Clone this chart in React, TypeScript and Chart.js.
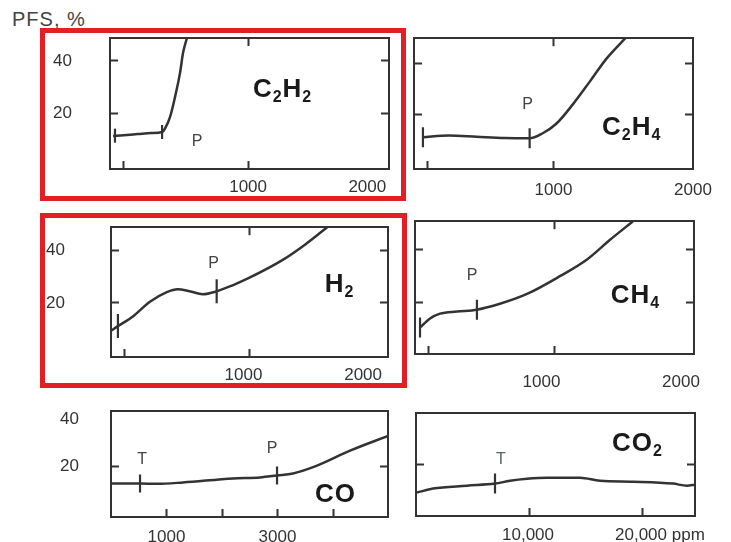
import React, { useEffect, useRef } from "react";
import { Chart, registerables } from "chart.js";

Chart.register(...registerables);

const FONT = '"Liberation Sans", Arial, Helvetica, sans-serif';
const INK = "#333333";
Chart.defaults.font.family = FONT;

// ---------- data (x in ppm, y in PFS %) ----------
// C2H2
const c2h2X = [22, 100, 200, 300, 377, 400, 435, 471, 507, 529, 558];
const c2h2Y = [11.2, 11.5, 11.9, 12.3, 12.7, 14.2, 18.5, 26.2, 35.4, 43.1, 49];
const c2h2MarkX = [36, 377];
const c2h2MarkY = [11.3, 12.7];
const c2h2NoteText = ["P"];
const c2h2NoteX = [630];
const c2h2NoteY = [9.6];

// C2H4
const c2h4X = [64, 250, 450, 650, 829, 920, 1020, 1140, 1260, 1380, 1515];
const c2h4Y = [11.2, 11.9, 11.4, 10.9, 10.8, 12.7, 16.5, 24.2, 33, 42, 50];
const c2h4MarkX = [64, 829];
const c2h4MarkY = [11.2, 10.8];
const c2h4NoteText = ["P"];
const c2h4NoteX = [814];
const c2h4NoteY = [24.6];

// H2
const h2X = [0, 50, 158, 281, 403, 482, 568, 662, 763, 878, 1000, 1237, 1410, 1561];
const h2Y = [9.3, 11.1, 14.8, 20.4, 24.1, 25.2, 24.4, 23.3, 24.4, 26.7, 29.6, 36.3, 42.6, 48.9];
const h2MarkX = [50, 763];
const h2MarkY = [11.1, 24.4];
const h2NoteText = ["P"];
const h2NoteX = [741];
const h2NoteY = [35.6];

// CH4
const ch4X = [36, 108, 179, 301, 444, 609, 803, 1039, 1233, 1398, 1563];
const ch4Y = [10.7, 14.1, 15.9, 16.7, 17.4, 19.6, 23.3, 30, 36.3, 43.7, 50.7];
const ch4MarkX = [36, 444];
const ch4MarkY = [10.7, 17.4];
const ch4NoteText = ["P"];
const ch4NoteX = [409];
const ch4NoteY = [30.7];

// CO
const coX = [0, 523, 829, 1297, 2198, 2685, 2991, 3279, 3712, 4306, 4990];
const coY = [12.9, 12.9, 12.7, 13.3, 15, 15.4, 16.25, 17.1, 20.4, 26.7, 32.9];
const coMarkX = [523, 2991];
const coMarkY = [12.9, 16.25];
const coNoteText = ["T", "P"];
const coNoteX = [559, 2901];
const coNoteY = [23.75, 28.3];

// CO2
const co2X = [88, 1504, 4513, 6991, 8319, 9823, 11593, 14513, 16283, 19204, 22743, 23982, 24690];
const co2Y = [7.9, 9.6, 10.8, 11.7, 12.9, 13.75, 14.2, 14.2, 12.9, 12.5, 11.7, 10.8, 11.25];
const co2MarkX = [6991];
const co2MarkY = [11.7];
const co2NoteText = ["T"];
const co2NoteX = [7522];
const co2NoteY = [22.5];

// tick values and labels
const upperXTicks = [100, 1000, 2000];
const upperXLabels = ["", "1000", "2000"];
const upperYTicks = [20, 40];
const upperYLabels = ["20", "40"];
const coXTicks = [1000, 2000, 3000, 4000];
const coXLabels = ["1000", "", "3000", ""];
const co2XTicks = [10000, 20000];
const co2XLabels = ["10,000", "20,000 ppm"];
const lowerYTicks = [20, 40];
const lowerYLabels = ["20", "40"];
const lowerRightTicks = [20];

// gas names
const gasNames = ["C2H2", "C2H4", "H2", "CH4", "CO", "CO2"];
const gasX = [1246, 1557, 1647, 1577, 4036, 19558];
const gasY = [29.6, 15.8, 27.4, 23.3, 8.75, 29.6];

// ---------- layout ----------
const M = { L: 80, T: 10, R: 30, B: 40 };

type PanelCfg = {
  box: [number, number, number, number];
  xMax: number;
  yMin: number;
  yMax: number;
  xs: number[];
  ys: number[];
  mx: number[];
  my: number[];
  markR: number;
  notes: { text: string[]; x: number[]; y: number[]; color: string };
  gas: number;
  xTicks: number[];
  xLabels: string[];
  xHidden: number[];
  xAlign: string;
  xOffset: number;
  xPad: number;
  topTicks: number[];
  yTicks: number[];
  yLabels: string[];
  yHidden: number[];
  showY: boolean;
  yPad: number;
  rightTicks: number[];
};

const PANELS: PanelCfg[] = [
  {
    box: [110, 38, 279, 131], xMax: 2020, yMin: -1.5, yMax: 48.8,
    xs: c2h2X, ys: c2h2Y, mx: c2h2MarkX, my: c2h2MarkY, markR: 7,
    notes: { text: c2h2NoteText, x: c2h2NoteX, y: c2h2NoteY, color: "#444" }, gas: 0,
    xTicks: upperXTicks, xLabels: upperXLabels, xHidden: [2000], xAlign: "inner", xOffset: 0, xPad: 15.8,
    topTicks: [1000], yTicks: upperYTicks, yLabels: upperYLabels, yHidden: [], showY: true, yPad: 46,
    rightTicks: upperYTicks,
  },
  {
    box: [414, 36, 279, 133], xMax: 2000, yMin: -1.2, yMax: 50,
    xs: c2h4X, ys: c2h4Y, mx: c2h4MarkX, my: c2h4MarkY, markR: 10,
    notes: { text: c2h4NoteText, x: c2h4NoteX, y: c2h4NoteY, color: "#444" }, gas: 1,
    xTicks: upperXTicks, xLabels: upperXLabels, xHidden: [2000], xAlign: "center", xOffset: 0, xPad: 18.8,
    topTicks: [1000], yTicks: upperYTicks, yLabels: upperYLabels, yHidden: [], showY: false, yPad: 46,
    rightTicks: upperYTicks,
  },
  {
    box: [111, 223, 277, 134], xMax: 2000, yMin: -0.7, yMax: 48.9,
    xs: h2X, ys: h2Y, mx: h2MarkX, my: h2MarkY, markR: 12,
    notes: { text: h2NoteText, x: h2NoteX, y: h2NoteY, color: "#444" }, gas: 2,
    xTicks: upperXTicks, xLabels: upperXLabels, xHidden: [2000], xAlign: "inner", xOffset: -6, xPad: 15.8,
    topTicks: [1000], yTicks: upperYTicks, yLabels: upperYLabels, yHidden: [], showY: true, yPad: 54,
    rightTicks: upperYTicks,
  },
  {
    box: [415, 219, 279, 135], xMax: 2000, yMin: 0.7, yMax: 50.7,
    xs: ch4X, ys: ch4Y, mx: ch4MarkX, my: ch4MarkY, markR: 10,
    notes: { text: ch4NoteText, x: ch4NoteX, y: ch4NoteY, color: "#444" }, gas: 3,
    xTicks: upperXTicks, xLabels: upperXLabels, xHidden: [2000], xAlign: "center", xOffset: -13, xPad: 25.8,
    topTicks: [1000], yTicks: upperYTicks, yLabels: upperYLabels, yHidden: [], showY: false, yPad: 46,
    rightTicks: upperYTicks,
  },
  {
    box: [111, 410, 277, 107], xMax: 4990, yMin: -1.25, yMax: 43.3,
    xs: coX, ys: coY, mx: coMarkX, my: coMarkY, markR: 9,
    notes: { text: coNoteText, x: coNoteX, y: coNoteY, color: "#444" }, gas: 4,
    xTicks: coXTicks, xLabels: coXLabels, xHidden: [], xAlign: "center", xOffset: 0, xPad: 17.8,
    topTicks: [], yTicks: lowerYTicks, yLabels: lowerYLabels, yHidden: [40], showY: true, yPad: 40,
    rightTicks: lowerRightTicks,
  },
  {
    box: [416, 411, 279, 105], xMax: 24690, yMin: -2.1, yMax: 41.7,
    xs: co2X, ys: co2Y, mx: co2MarkX, my: co2MarkY, markR: 10,
    notes: { text: co2NoteText, x: co2NoteX, y: co2NoteY, color: "#52695c" }, gas: 5,
    xTicks: co2XTicks, xLabels: co2XLabels, xHidden: [], xAlign: "start", xOffset: -27, xPad: 16.8,
    topTicks: [], yTicks: lowerRightTicks, yLabels: ["20"], yHidden: [], showY: false, yPad: 40,
    rightTicks: lowerRightTicks,
  },
];

function textPlugin(p: PanelCfg) {
  return {
    id: "panelText",
    afterDatasetsDraw(chart: any) {
      const { ctx, scales } = chart;
      const sx = scales.x;
      const sy = scales.y;
      ctx.save();
      // P / T notes
      ctx.font = `16px ${FONT}`;
      ctx.fillStyle = p.notes.color;
      ctx.textAlign = "center";
      ctx.textBaseline = "alphabetic";
      p.notes.text.forEach((t, i) => {
        const px = sx.getPixelForValue(p.notes.x[i]);
        const py = sy.getPixelForValue(p.notes.y[i]);
        ctx.fillText(t, px, py + 6);
      });
      // gas name with subscripts
      const name = gasNames[p.gas];
      const cx = sx.getPixelForValue(gasX[p.gas]);
      const cy = sy.getPixelForValue(gasY[p.gas]);
      const mainFont = `bold 26px ${FONT}`;
      const subFont = `bold 16px ${FONT}`;
      const gap = 1;
      const chars = name.split("");
      const widths = chars.map((c) => {
        ctx.font = /\d/.test(c) ? subFont : mainFont;
        return ctx.measureText(c).width;
      });
      const total = widths.reduce((a, b) => a + b, 0) + gap * (chars.length - 1);
      let x = cx - total / 2;
      const base = cy + 9;
      ctx.fillStyle = "#1a1a1a";
      ctx.textAlign = "left";
      chars.forEach((c, i) => {
        const sub = /\d/.test(c);
        ctx.font = sub ? subFont : mainFont;
        ctx.fillText(c, x, sub ? base + 5 : base);
        x += widths[i] + gap;
      });
      ctx.restore();
    },
  };
}

function buildConfig(p: PanelCfg): any {
  const tickFont = { family: FONT, size: 17 };
  const border = { display: true, color: INK, width: 2 };
  const gridBase = { drawOnChartArea: false, drawTicks: true, tickLength: -8, tickWidth: 2 };
  return {
    type: "line",
    data: {
      datasets: [
        {
          data: p.xs.map((x, i) => ({ x, y: p.ys[i] })),
          borderColor: INK,
          borderWidth: 2.5,
          pointRadius: 0,
          tension: 0.4,
          cubicInterpolationMode: "monotone",
          fill: false,
        },
        {
          data: p.mx.map((x, i) => ({ x, y: p.my[i] })),
          showLine: false,
          pointStyle: "line",
          rotation: 90,
          pointRotation: 90,
          pointRadius: p.markR,
          pointBorderWidth: 2.2,
          pointBorderColor: INK,
          pointBackgroundColor: INK,
        },
      ],
    },
    options: {
      responsive: false,
      animation: false,
      devicePixelRatio: 1,
      events: [],
      layout: { padding: 0 },
      plugins: {
        legend: { display: false },
        tooltip: { enabled: false },
        title: { display: false },
      },
      scales: {
        x: {
          type: "linear",
          position: "bottom",
          min: 0,
          max: p.xMax,
          afterBuildTicks: (s: any) => {
            s.ticks = p.xTicks.map((v) => ({ value: v }));
          },
          afterFit: (s: any) => {
            s.height = M.B;
            s.paddingLeft = 0;
            s.paddingRight = 0;
          },
          grid: {
            ...gridBase,
            tickColor: (c: any) =>
              c.tick && p.xHidden.includes(c.tick.value) ? "rgba(0,0,0,0)" : INK,
          },
          border,
          ticks: {
            autoSkip: false,
            maxRotation: 0,
            minRotation: 0,
            align: p.xAlign,
            labelOffset: p.xOffset,
            padding: p.xPad,
            color: INK,
            font: tickFont,
            callback: (_v: any, i: number) => p.xLabels[i] ?? "",
          },
        },
        x2: {
          type: "linear",
          position: "top",
          min: 0,
          max: p.xMax,
          afterBuildTicks: (s: any) => {
            s.ticks = p.topTicks.map((v) => ({ value: v }));
          },
          afterFit: (s: any) => {
            s.height = M.T;
            s.paddingLeft = 0;
            s.paddingRight = 0;
          },
          grid: { ...gridBase, drawTicks: p.topTicks.length > 0, tickColor: INK },
          border,
          ticks: { display: false },
        },
        y: {
          type: "linear",
          position: "left",
          min: p.yMin,
          max: p.yMax,
          afterBuildTicks: (s: any) => {
            s.ticks = p.yTicks.map((v) => ({ value: v }));
          },
          afterFit: (s: any) => {
            s.width = M.L;
            s.paddingTop = 0;
            s.paddingBottom = 0;
          },
          grid: {
            ...gridBase,
            tickColor: (c: any) =>
              c.tick && p.yHidden.includes(c.tick.value) ? "rgba(0,0,0,0)" : INK,
          },
          border,
          ticks: {
            display: p.showY,
            padding: p.yPad,
            color: INK,
            font: tickFont,
            callback: (_v: any, i: number) => p.yLabels[i] ?? "",
          },
        },
        y2: {
          type: "linear",
          position: "right",
          min: p.yMin,
          max: p.yMax,
          afterBuildTicks: (s: any) => {
            s.ticks = p.rightTicks.map((v) => ({ value: v }));
          },
          afterFit: (s: any) => {
            s.width = M.R;
            s.paddingTop = 0;
            s.paddingBottom = 0;
          },
          grid: { ...gridBase, tickColor: INK },
          border,
          ticks: { display: false },
        },
      },
    },
    plugins: [textPlugin(p)],
  };
}

function Panel({ p }: { p: PanelCfg }) {
  const ref = useRef<HTMLCanvasElement>(null);
  useEffect(() => {
    if (!ref.current) return;
    const chart = new Chart(ref.current, buildConfig(p));
    return () => chart.destroy();
  }, [p]);
  const [l, t, w, h] = p.box;
  const cw = M.L + w + M.R;
  const ch = M.T + h + M.B;
  return (
    <canvas
      ref={ref}
      width={cw}
      height={ch}
      style={{ position: "absolute", left: l - M.L, top: t - M.T, width: cw, height: ch }}
    />
  );
}

export default function App() {
  const red = "5px solid #e31e24";
  return (
    <div
      style={{
        position: "absolute",
        left: 0,
        top: 0,
        width: 731,
        height: 542,
        overflow: "hidden",
        background: "#ffffff",
        fontFamily: FONT,
      }}
    >
      <div
        style={{
          position: "absolute",
          left: 12,
          top: 9,
          fontSize: 20,
          lineHeight: "20px",
          letterSpacing: "1px",
          color: "#444",
          whiteSpace: "nowrap",
        }}
      >
        PFS, %
      </div>
      {PANELS.map((p, i) => (
        <Panel key={i} p={p} />
      ))}
      <div
        style={{
          position: "absolute",
          left: 40,
          top: 28,
          width: 366,
          height: 173,
          border: red,
          boxSizing: "border-box",
        }}
      />
      <div
        style={{
          position: "absolute",
          left: 40,
          top: 213,
          width: 367,
          height: 175,
          border: red,
          boxSizing: "border-box",
        }}
      />
    </div>
  );
}
